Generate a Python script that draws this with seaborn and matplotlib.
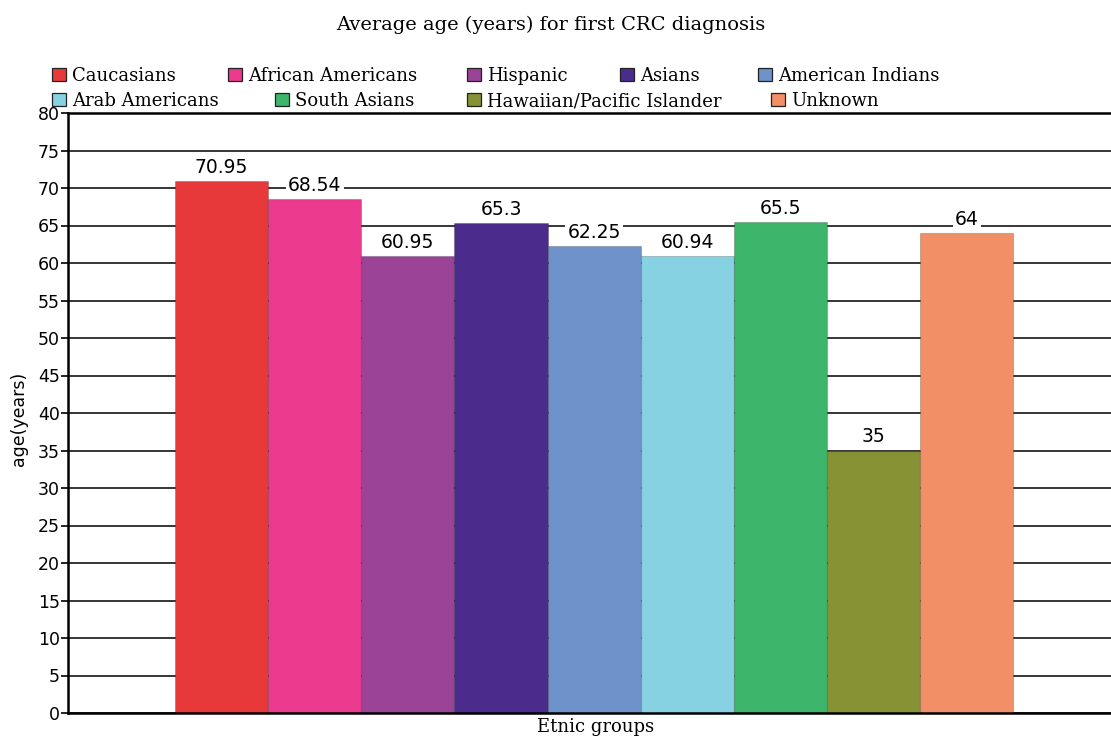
import matplotlib
matplotlib.use("Agg")
import matplotlib.pyplot as plt
from matplotlib.patches import Patch
import seaborn as sns
import pandas as pd

groups = ["Caucasians", "African Americans", "Hispanic", "Asians", "American Indians",
          "Arab Americans", "South Asians", "Hawaiian/Pacific Islander", "Unknown"]
ages = [70.95, 68.54, 60.95, 65.3, 62.25, 60.94, 65.5, 35, 64]
colors = ["#E8393A", "#EC3A8F", "#9B4397", "#4B2C8C", "#6E93CB",
          "#87D2E2", "#3DB56A", "#879234", "#F28F66"]
y_ticks = list(range(0, 81, 5))

df = pd.DataFrame({"group": groups, "age": ages})

sns.set_style("white")
plt.rcParams["text.color"] = "black"
serif = ["DejaVu Serif"]
sans = ["DejaVu Sans"]

W, H = 1111, 740
fig = plt.figure(figsize=(W / 100, H / 100), dpi=100)
ax = fig.add_axes([68 / W, 27 / H, 1 - 68 / W, 600 / H])

sns.barplot(data=df, x="group", y="age", hue="group", palette=colors,
            width=1.0, dodge=False, legend=False, saturation=1,
            edgecolor="#00000030", linewidth=0.8, ax=ax, zorder=2)

ax.set_ylim(0, 80)
ax.set_xlim(-1.65, 9.55)
ax.set_yticks(y_ticks)
ax.set_yticklabels([str(t) for t in y_ticks], fontsize=12.5, family=sans, color="black")
ax.set_xticks([])
ax.grid(axis="y", color="black", linewidth=1.1, zorder=0)
ax.set_axisbelow(True)
ax.tick_params(axis="y", direction="out", length=5, width=1.2, color="black", pad=1, left=True)

for side in ["left", "bottom", "top"]:
    ax.spines[side].set_color("black")
    ax.spines[side].set_linewidth(1.8)
ax.spines["right"].set_visible(False)

ax.set_ylabel("age(years)", fontsize=12.5, family=sans, color="black")
ax.yaxis.set_label_coords(-0.038, 0.49)
ax.set_xlabel("")

# Value labels on white boxes above each bar
for cont in ax.containers:
    ax.bar_label(cont, fmt="%g", padding=3, fontsize=13.5, family=sans, color="black",
                 bbox=dict(facecolor="white", edgecolor="none", pad=1.5))

fig.text(551 / W, 1 - 25 / H, "Average age (years) for first CRC diagnosis",
         ha="center", va="center", fontsize=14, family=serif)
fig.text(596 / W, 1 - 727 / H, "Etnic groups",
         ha="center", va="center", fontsize=13, family=serif)

# Legend entries laid out in two rows above the plot area
entry_x = [52, 228, 467, 620, 758, 52, 275, 467, 771]
entry_y = [76, 76, 76, 76, 76, 101, 101, 101, 101]
for name, col, ex, ey in zip(groups, colors, entry_x, entry_y):
    fig.legend([Patch(facecolor=col, edgecolor="#222222", linewidth=0.9)], [name],
               loc="center left", bbox_to_anchor=(ex / W, 1 - ey / H),
               frameon=False, prop={"family": serif, "size": 13},
               handlelength=0.75, handleheight=0.75, handletextpad=0.35,
               borderaxespad=0, borderpad=0)

fig.savefig("out.png", dpi=100, facecolor="white")
